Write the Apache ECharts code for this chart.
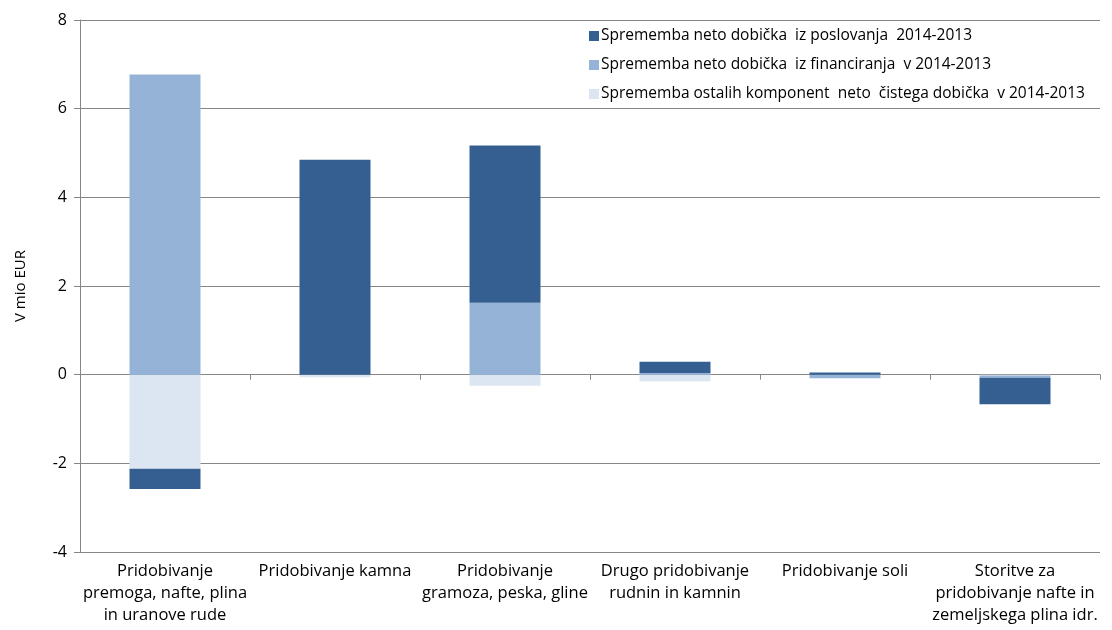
<!DOCTYPE html>
<html>
<head>
<meta charset="utf-8">
<script src="https://cdn.jsdelivr.net/npm/echarts@6/dist/echarts.min.js"></script>
<style>
  html, body { margin: 0; padding: 0; background: #fff; }
  #main { width: 1112px; height: 630px; }
</style>
</head>
<body>
<div id="main"></div>
<script>
// kategorije (dejavnosti)
const categories = [
  'Pridobivanje\npremoga, nafte, plina\nin uranove rude',
  'Pridobivanje kamna',
  'Pridobivanje\ngramoza, peska, gline',
  'Drugo pridobivanje\nrudnin in kamnin',
  'Pridobivanje soli',
  'Storitve za\npridobivanje nafte in\nzemeljskega plina idr.'
]
const poslovanja = [-0.46, 4.85, 3.55, 0.25, 0.05, -0.6]
const financiranja = [6.77, 0, 1.62, 0.04, -0.07, -0.05]
const ostalih = [-2.12, -0.06, -0.25, -0.15, -0.01, -0.02]
const yTicks = [-4, -2, 0, 2, 4, 6, 8]

const names = [
  'Sprememba neto dobička  iz poslovanja  2014-2013',
  'Sprememba neto dobička  iz financiranja  v 2014-2013',
  'Sprememba ostalih komponent  neto  čistega dobička  v 2014-2013'
]
const colors = ['#355F91', '#95B3D7', '#DCE6F2']
const font = '"Open Sans", sans-serif'

const chart = echarts.init(document.getElementById('main'))
const option = {
  animation: false,
  grid: { left: 80, right: 12, top: 20, bottom: 78 },
  legend: {
    orient: 'vertical',
    left: 584,
    top: 22,
    itemWidth: 10,
    itemHeight: 10,
    itemGap: 11,
    icon: 'rect',
    data: names,
    textStyle: { fontFamily: font, fontSize: 15.5, color: '#000', lineHeight: 18, padding: [0, 0, 0, -3] }
  },
  xAxis: [
    {
      type: 'category',
      data: categories,
      axisLine: { show: false, onZero: false },
      axisTick: { show: false },
      axisLabel: {
        interval: 0,
        fontFamily: font,
        fontSize: 16.5,
        color: '#000',
        lineHeight: 22,
        margin: 8
      }
    },
    {
      type: 'category',
      data: categories,
      position: 'bottom',
      axisLine: { show: true, onZero: true, lineStyle: { color: '#868686', width: 1 } },
      axisTick: { show: true, length: 5, lineStyle: { color: '#868686' } },
      axisLabel: { show: false }
    }
  ],
  yAxis: {
    type: 'value',
    min: yTicks[0],
    max: yTicks[yTicks.length - 1],
    interval: 2,
    name: 'V mio EUR',
    nameLocation: 'middle',
    nameGap: 52,
    nameRotate: 90,
    nameTextStyle: { fontFamily: font, fontSize: 15, color: '#000' },
    axisLine: { show: true, lineStyle: { color: '#868686', width: 1 } },
    axisTick: { show: true, length: 6, lineStyle: { color: '#868686' } },
    axisLabel: { fontFamily: font, fontSize: 16, color: '#000', margin: 13 },
    splitLine: { show: true, lineStyle: { color: '#868686', width: 1 } }
  },
  series: [
    { name: names[2], type: 'bar', stack: 'a', data: ostalih, itemStyle: { color: colors[2] } },
    { name: names[1], type: 'bar', stack: 'a', data: financiranja, itemStyle: { color: colors[1] } },
    { name: names[0], type: 'bar', stack: 'a', data: poslovanja, itemStyle: { color: colors[0] } }
  ].map(s => Object.assign(s, { barWidth: 71, xAxisIndex: 0 }))
}
chart.setOption(option)
</script>
</body>
</html>
